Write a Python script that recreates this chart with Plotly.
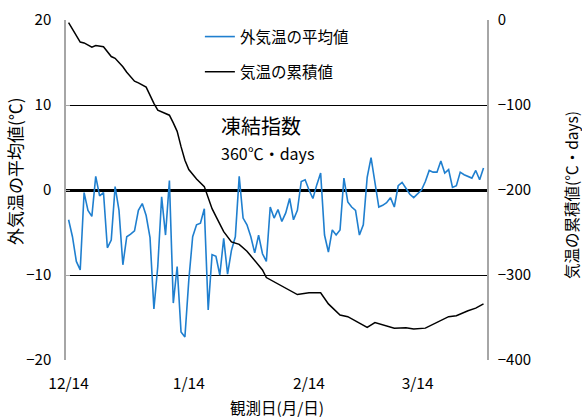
import pandas as pd
import plotly.graph_objects as go

# Daily mean outdoor air temperature, 12/14 through 3/31 (one value per day)
start_date = "2012-12-14"
daily_mean_temp = [
    -3.5, -5.5, -8.4, -9.4, -0.3, -2.4, -3.1, 1.6, -0.7, -0.3,
    -6.8, -5.9, 0.4, -2.4, -8.8, -5.5, -5.2, -4.8, -2.4, -1.6,
    -3.0, -5.6, -14.0, -9.0, -0.8, -5.3, 1.1, -13.3, -9.0, -16.7,
    -17.3, -10.6, -5.5, -4.1, -3.9, -2.2, -14.1, -7.6, -7.8, -10.0,
    -5.7, -9.9, -7.1, -5.5, 1.6, -3.3, -4.1, -5.5, -7.4, -5.3,
    -7.5, -8.4, -2.0, -3.3, -2.3, -3.7, -2.7, -1.0, -3.5, -2.4,
    1.0, 1.2, 0.0, -1.0, 0.6, 2.0, -5.3, -7.3, -4.7, -5.3,
    -4.7, 1.4, -1.4, -2.0, -2.4, -5.3, -4.1, 1.5, 3.8, 0.6,
    -2.0, -1.8, -1.5, -0.9, -2.0, 0.5, 0.9, 0.2, -0.5, -0.9,
    -0.5, 0.0, 1.0, 2.3, 2.1, 2.1, 3.4, 2.0, 2.4, 0.3,
    0.5, 2.1, 1.8, 1.6, 1.4, 2.3, 1.2, 2.6,
]

# Cumulative air temperature (deg C * days), sampled by day number
cum_days = [0, 1, 2, 3, 4, 5, 6, 7, 9, 11, 12, 14, 15, 17, 18, 20, 21, 22, 23,
            24, 26, 27, 28, 29, 30, 31, 32, 33, 35, 36, 37, 38, 40, 42, 43, 44,
            46, 48, 50, 51, 53, 55, 57, 59, 62, 65, 67, 70, 72, 75, 77, 79, 82,
            84, 87, 89, 92, 95, 98, 100, 103, 105, 107]
cum_temp = [-3, -11, -19, -26, -27, -30, -32, -30, -31.5, -43, -45, -55, -61.5,
            -72, -74, -79, -89, -98, -106, -108, -112, -121, -131, -149, -165,
            -176, -182, -187, -196, -208, -222, -231, -249, -261, -262.5, -264,
            -272, -283, -294, -303, -308, -313, -318, -323, -321, -321, -334,
            -347, -349, -357, -361.6, -356, -360, -362.5, -362, -363.5, -362.5,
            -356, -349, -348, -342, -339, -334]

tick_dates = ["2012-12-14", "2013-01-14", "2013-02-14", "2013-03-14"]
tick_labels = ["12/14", "1/14", "2/14", "3/14"]

t0 = pd.Timestamp(start_date)
daily_dates = [t0 + pd.Timedelta(days=i) for i in range(len(daily_mean_temp))]
cum_dates = [t0 + pd.Timedelta(days=d) for d in cum_days]

FONT = "Noto Sans CJK JP"
BLUE = "#1f7fcf"

fig = go.Figure()
# invisible carrier for the horizontal grid of the left scale
fig.add_trace(go.Scatter(x=[daily_dates[0]], y=[None], yaxis="y3",
                         showlegend=False, hoverinfo="skip"))
fig.add_trace(go.Scatter(
    x=daily_dates, y=daily_mean_temp, mode="lines", name="外気温の平均値",
    line=dict(color=BLUE, width=1.6), legendgroup="a",
))
fig.add_trace(go.Scatter(
    x=cum_dates, y=cum_temp, mode="lines", name="気温の累積値",
    line=dict(color="black", width=1.5), yaxis="y2", legendgroup="b",
))

x_lo = t0 - pd.Timedelta(hours=16)
x_hi = t0 + pd.Timedelta(days=107.9)

fig.update_layout(
    width=582, height=419,
    margin=dict(l=66, r=95, t=20, b=59, autoexpand=False),
    paper_bgcolor="white", plot_bgcolor="white",
    font=dict(family=FONT, size=15, color="black"),
    showlegend=True,
    legend=dict(x=0.318, y=1.0, xanchor="left", yanchor="top",
                bgcolor="rgba(0,0,0,0)", font=dict(size=15.5),
                tracegroupgap=12, itemwidth=30),
    xaxis=dict(type="date", range=[x_lo, x_hi], showgrid=False, zeroline=False,
               showline=False, tickvals=tick_dates, ticktext=tick_labels,
               ticks="", ticklabelstandoff=12, tickfont=dict(size=15.5),
               automargin=False),
    yaxis=dict(range=[-20, 20], tickvals=[-20, -10, 0, 10, 20], showgrid=False,
               zeroline=True, zerolinecolor="black", zerolinewidth=2.5,
               showline=True, linecolor="#a6a6a6", linewidth=1.5,
               ticks="inside", ticklen=4, tickcolor="#a6a6a6",
               ticklabelstandoff=10, tickfont=dict(size=15), automargin=False),
    yaxis2=dict(range=[-400, 0], tickvals=[-400, -300, -200, -100, 0],
                overlaying="y", side="right", showgrid=False, zeroline=False,
                showline=True, linecolor="#a6a6a6", linewidth=1.5,
                ticks="", ticklabelstandoff=6, tickfont=dict(size=15),
                automargin=False),
    yaxis3=dict(range=[-20, 20], tickvals=[-20, -10, 10], overlaying="y",
                showgrid=True, gridcolor="black", gridwidth=1,
                showticklabels=False, ticks="", zeroline=False, showline=False,
                automargin=False),
    annotations=[
        dict(text="外気温の平均値(℃)", xref="paper", yref="paper",
             x=-0.121, y=0.556, xanchor="center", yanchor="middle",
             textangle=-90, showarrow=False, font=dict(size=17)),
        dict(text="気温の累積値(℃・days)", xref="paper", yref="paper",
             x=1.1995, y=0.485, xanchor="center", yanchor="middle",
             textangle=-90, showarrow=False, font=dict(size=15.5)),
        dict(text="観測日(月/日)", xref="paper", yref="paper",
             x=0.5, y=-0.138, xanchor="center", yanchor="middle",
             showarrow=False, font=dict(size=15.5)),
        dict(text="凍結指数", xref="paper", yref="paper",
             x=(219 - 66) / 421, y=(360 - 125) / 340, xanchor="left",
             yanchor="middle", showarrow=False, font=dict(size=20)),
        dict(text="360℃・days", xref="paper", yref="paper",
             x=(219 - 66) / 421, y=(360 - 153) / 340, xanchor="left",
             yanchor="middle", showarrow=False, font=dict(size=16)),
    ],
)

fig.write_html("out.html")
